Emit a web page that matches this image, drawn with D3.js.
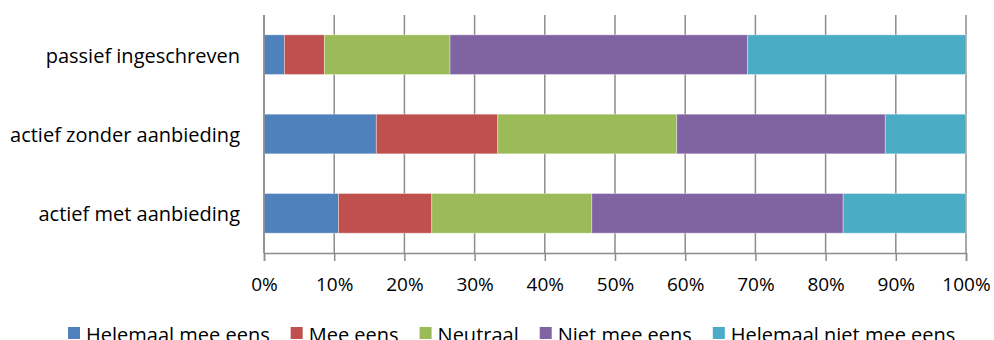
<!DOCTYPE html>
<html>
<head>
<meta charset="utf-8">
<script src="https://cdn.jsdelivr.net/npm/d3@7"></script>
<style>
  html, body { margin: 0; padding: 0; background: #fff; }
  svg { display: block; font-family: "Open Sans", sans-serif; }
</style>
</head>
<body>
<svg id="chart" width="994" height="340"></svg>
<script>
// Answer categories (stack order, left to right)
const series = ["Helemaal mee eens", "Mee eens", "Neutraal", "Niet mee eens", "Helemaal niet mee eens"];
const colors = ["#4F81BD", "#C0504D", "#9BBB59", "#8064A2", "#4BACC6"];

// Respondent groups, top to bottom
const categories = ["passief ingeschreven", "actief zonder aanbieding", "actief met aanbieding"];

// Share (%) per answer for each group
const helemaalMeeEens     = [2.9, 16.0, 10.6];
const meeEens             = [5.7, 17.3, 13.3];
const neutraal            = [17.9, 25.5, 22.8];
const nietMeeEens         = [42.4, 29.7, 35.8];
const helemaalNietMeeEens = [31.1, 11.5, 17.5];

const tickValues = [0, 10, 20, 30, 40, 50, 60, 70, 80, 90, 100];

const rows = categories.map((c, i) => ({
  category: c,
  "Helemaal mee eens": helemaalMeeEens[i],
  "Mee eens": meeEens[i],
  "Neutraal": neutraal[i],
  "Niet mee eens": nietMeeEens[i],
  "Helemaal niet mee eens": helemaalNietMeeEens[i]
}));

const svg = d3.select("#chart");
const plot = { left: 264, right: 966, top: 15, bottom: 253 };

const x = d3.scaleLinear().domain([0, 100]).range([plot.left, plot.right]);
const y = d3.scaleBand().domain(categories).range([plot.top, plot.bottom])
  .paddingInner(0.5).paddingOuter(0.25);
const color = d3.scaleOrdinal().domain(series).range(colors);

// Vertical gridlines
svg.append("g")
  .selectAll("line")
  .data(tickValues)
  .join("line")
  .attr("x1", d => x(d)).attr("x2", d => x(d))
  .attr("y1", plot.top).attr("y2", plot.bottom)
  .attr("stroke", "#8c8c8c")
  .attr("stroke-width", 1.5);

// Stacked bars, normalised to 100%
const stacked = d3.stack().keys(series)(rows);
const totals = rows.map(r => d3.sum(series, k => r[k]));

svg.append("g")
  .selectAll("g")
  .data(stacked)
  .join("g")
  .attr("fill", d => color(d.key))
  .selectAll("rect")
  .data(d => d.map((s, i) => ({ s, i })))
  .join("rect")
  .attr("x", d => x(d.s[0] / totals[d.i] * 100))
  .attr("width", d => x(d.s[1] / totals[d.i] * 100) - x(d.s[0] / totals[d.i] * 100))
  .attr("y", d => y(categories[d.i]))
  .attr("height", y.bandwidth())
  .attr("stroke", "rgba(255,255,255,0.45)")
  .attr("stroke-width", 0.8);

// Category axis line
svg.append("line")
  .attr("x1", plot.left).attr("x2", plot.left)
  .attr("y1", plot.top).attr("y2", plot.bottom)
  .attr("stroke", "#8c8c8c").attr("stroke-width", 1.5);

// Category labels
svg.append("g")
  .selectAll("text")
  .data(categories)
  .join("text")
  .attr("x", 240)
  .attr("y", d => y(d) + y.bandwidth() / 2 + 8)
  .attr("text-anchor", "end")
  .attr("font-size", 20)
  .attr("fill", "#000")
  .text(d => d);

// Percentage axis
const xAxis = d3.axisBottom(x)
  .tickValues(tickValues)
  .tickFormat(d => d + "%")
  .tickSize(8)
  .tickPadding(17);

const gx = svg.append("g")
  .attr("transform", `translate(0,${plot.bottom})`)
  .call(xAxis);
gx.select(".domain").attr("stroke", "#8c8c8c").attr("stroke-width", 1.5);
gx.selectAll(".tick line").attr("stroke", "#8c8c8c").attr("stroke-width", 1.5);
gx.selectAll(".tick text")
  .attr("font-family", "'Open Sans', sans-serif")
  .attr("font-size", 19)
  .attr("fill", "#000");

// Legend
const legend = svg.append("g").attr("transform", "translate(68,0)");
let lx = 0;
series.forEach((s, i) => {
  const item = legend.append("g").attr("transform", `translate(${lx},0)`);
  item.append("rect")
    .attr("x", 0).attr("y", 327)
    .attr("width", 12).attr("height", 12)
    .attr("fill", colors[i]);
  const t = item.append("text")
    .attr("x", 18).attr("y", 342)
    .attr("font-size", 20)
    .attr("fill", "#000")
    .text(s);
  lx += 18 + t.node().getComputedTextLength() + 21;
});
</script>
</body>
</html>
